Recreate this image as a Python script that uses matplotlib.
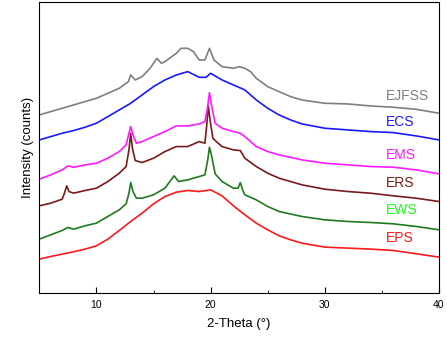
import matplotlib
matplotlib.use("Agg")
from matplotlib import pyplot as plt
from matplotlib.ticker import MultipleLocator

plt.rcParams["font.family"] = ["Liberation Sans", "DejaVu Sans"]

# 2-theta positions and stacked intensities (arbitrary, offset per sample)
eps_x = [5, 6, 7, 8, 9, 10, 11, 12, 13, 14, 15, 16, 17, 18, 19, 20, 21, 22, 23, 24, 25, 26, 27, 28, 30, 32, 34, 36, 38, 40]
eps_y = [102, 110, 117, 124, 132, 142, 162, 188, 215, 240, 268, 290, 303, 308, 305, 310, 292, 262, 235, 210, 190, 172, 160, 150, 138, 135, 132, 128, 118, 108]

ews_x = [5, 6, 7, 7.5, 8, 9, 10, 11, 12, 12.6, 12.85, 13.0, 13.2, 13.5, 14, 15, 16, 16.8, 17.2, 18, 19, 19.5, 19.75, 19.9, 20.1, 20.4,
         21, 22, 22.4, 22.6, 22.8, 23, 24, 25, 26, 28, 30, 32, 34, 36, 38, 40]
ews_y = [162, 175, 188, 197, 192, 202, 210, 230, 250, 268, 300, 332, 305, 285, 285, 295, 315, 352, 335, 340, 350, 355, 400, 438, 410, 358,
         335, 315, 315, 332, 310, 295, 280, 260, 245, 230, 220, 215, 212, 208, 200, 190]

ers_x = [5, 6, 7, 7.2, 7.4, 7.6, 8, 9, 10, 11, 12, 12.6, 12.85, 13.0, 13.15, 13.4, 14, 15, 16, 17, 18, 19, 19.5, 19.65, 19.8, 19.95,
         20.2, 20.5, 21, 22, 22.6, 23, 24, 25, 26, 28, 30, 32, 34, 36, 38, 40]
ers_y = [262, 270, 282, 300, 322, 305, 300, 308, 315, 335, 360, 380, 430, 480, 435, 398, 392, 405, 425, 440, 440, 455, 450, 500, 562, 520,
         465, 455, 440, 430, 428, 405, 380, 360, 345, 325, 312, 305, 300, 292, 285, 275]

ems_x = [5, 6, 7, 7.5, 8, 9, 10, 11, 12, 12.6, 12.85, 13.0, 13.2, 13.5, 14, 15, 16, 17, 18, 19, 19.5, 19.7, 19.9, 20.1, 20.4,
         21, 22, 22.6, 23, 24, 25, 26, 28, 30, 32, 34, 36, 38, 40]
ems_y = [342, 355, 370, 382, 378, 385, 390, 405, 425, 445, 480, 500, 475, 450, 455, 470, 485, 502, 502, 508, 515, 550, 602, 560, 510,
         495, 485, 480, 470, 440, 425, 415, 400, 390, 385, 380, 378, 370, 358]

ecs_x = [5, 6, 7, 8, 9, 10, 11, 12, 13, 14, 15, 16, 17, 18, 19, 19.6, 20, 21, 22, 23, 24, 25, 26, 27, 28, 30, 32, 34, 36, 38, 40]
ecs_y = [460, 470, 480, 488, 498, 510, 530, 550, 570, 595, 620, 640, 655, 665, 648, 648, 660, 640, 625, 610, 580, 555, 535, 520, 508,
         495, 490, 485, 482, 472, 460]

ejfss_x = [5, 6, 7, 8, 9, 10, 11, 12, 12.8, 13.0, 13.4, 14, 14.7, 15.3, 15.7, 16, 17, 17.4, 18, 18.5, 19, 19.5, 19.9, 20.3,
           21, 22, 22.5, 23, 23.5, 24, 25, 26, 27, 28, 30, 32, 34, 36, 38, 40]
ejfss_y = [535, 545, 555, 565, 575, 585, 600, 615, 635, 655, 640, 650, 675, 705, 690, 695, 720, 735, 735, 725, 700, 700, 735, 700,
           680, 675, 680, 675, 665, 645, 620, 605, 590, 580, 570, 568, 562, 558, 552, 540]

names = ["EPS", "EWS", "ERS", "EMS", "ECS", "EJFSS"]
xs = [eps_x, ews_x, ers_x, ems_x, ecs_x, ejfss_x]
ys = [eps_y, ews_y, ers_y, ems_y, ecs_y, ejfss_y]
line_colors = ["#ff1a1a", "#1f7a1f", "#7a1a1a", "#ff1aff", "#1a1aff", "#7f7f7f"]
label_colors = ["#ff1a1a", "#1aff1a", "#7a1a1a", "#ff1aff", "#1a1aff", "#7f7f7f"]
label_y = [164, 248, 330, 415, 515, 592]

fig = plt.figure(figsize=(4.47, 3.40), dpi=100)
ax = fig.add_axes([0.088, 0.138, 0.894, 0.856])

for i in range(len(names)):
    ax.plot(xs[i], ys[i], color=line_colors[i], lw=1.2)
    ax.text(35.35, label_y[i], names[i], color=label_colors[i], fontsize=10,
            ha="left", va="center")

ax.set_xlim(5, 40)
ax.set_ylim(0, 874)
ax.xaxis.set_major_locator(MultipleLocator(10))
ax.xaxis.set_minor_locator(MultipleLocator(5))
ax.tick_params(axis="x", which="both", direction="in", labelsize=7.5, pad=5)
ax.tick_params(axis="x", which="major", length=4)
ax.tick_params(axis="x", which="minor", length=2.5)
ax.set_yticks([])
ax.set_xlabel("2-Theta (°)", fontsize=9.5, labelpad=6)
ax.set_ylabel("Intensity (counts)", fontsize=9.5)

fig.savefig("out.png", dpi=100)
